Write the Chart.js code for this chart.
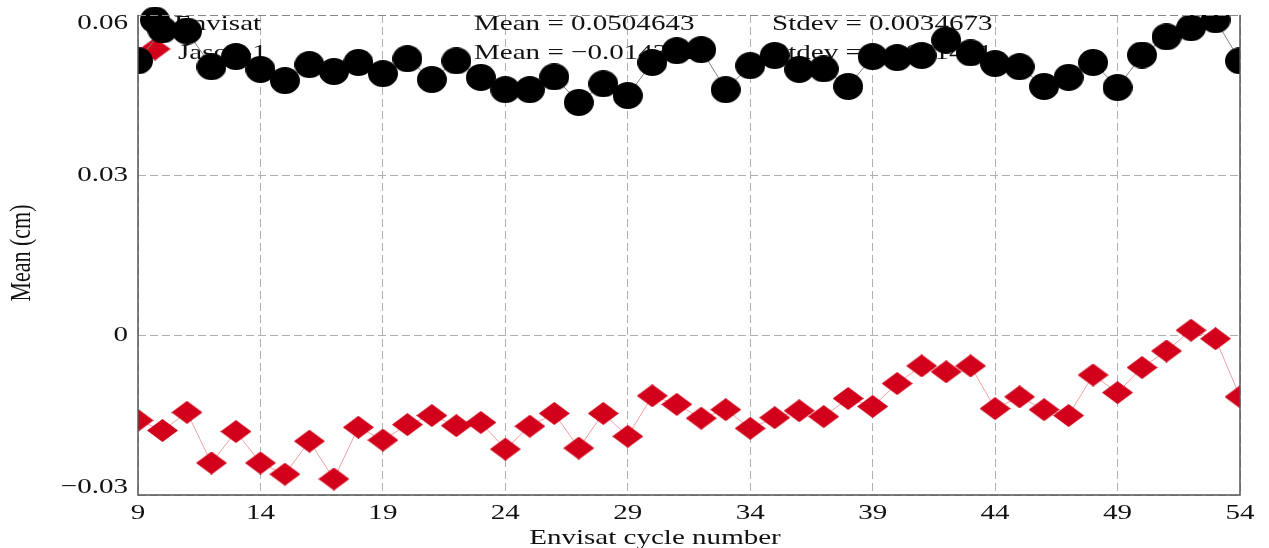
<!DOCTYPE html>
<html>
<head>
<meta charset="utf-8">
<script src="https://cdn.jsdelivr.net/npm/chart.js@4"></script>
<style>
  body { margin: 0; background: #fff; }
  canvas { display: block; }
</style>
</head>
<body>
<canvas id="chart" width="1269" height="548"></canvas>
<script>
// Envisat cycles 9..54
const cycles = [9, 10, 11, 12, 13, 14, 15, 16, 17, 18, 19, 20, 21, 22, 23, 24, 25, 26, 27, 28, 29, 30, 31,
    32, 33, 34, 35, 36, 37, 38, 39, 40, 41, 42, 43, 44, 45, 46, 47, 48, 49, 50, 51, 52, 53, 54];

const envisatMean = [0.0514, 0.0572, 0.0570, 0.0503, 0.0522, 0.0498, 0.0477, 0.0507, 0.0494, 0.0511,
    0.0490, 0.0518, 0.0479, 0.0514, 0.0483, 0.0460, 0.0460, 0.0484, 0.0436, 0.0471, 0.0449, 0.0511,
    0.0533, 0.0535, 0.0460, 0.0505, 0.0524, 0.0498, 0.0499, 0.0466, 0.0522, 0.0520, 0.0524, 0.0553,
    0.0529, 0.0509, 0.0503, 0.0466, 0.0483, 0.0511, 0.0464, 0.0525, 0.0559, 0.0576, 0.0591, 0.0514];

const jasonMean = [-0.0160, -0.0179, -0.0145, -0.0240, -0.0181, -0.0240, -0.0261, -0.0199, -0.0270, -0.0173,
    -0.0197, -0.0168, -0.0151, -0.0170, -0.0164, -0.0214, -0.0171, -0.0147, -0.0212, -0.0147, -0.0190, -0.0114,
    -0.0130, -0.0156, -0.0140, -0.0175, -0.0155, -0.0142, -0.0153, -0.0119, -0.0134, -0.0091, -0.0058, -0.0069,
    -0.0058, -0.0138, -0.0116, -0.0140, -0.0151, -0.0075, -0.0108, -0.0061, -0.0030, 0.0009, -0.0007, -0.0116];

const xTicks = [9, 14, 19, 24, 29, 34, 39, 44, 49, 54];
const yTicks = [-0.03, 0, 0.03, 0.06];

const seriesNames = ['Envisat', 'Jason-1'];
const statLines = [
    ['Mean = 0.0504643', 'Stdev = 0.0034673'],
    ['Mean = \u22120.0143626', 'Stdev = 0.0061401']
];

const FONT = '22px "Liberation Serif", "Times New Roman", serif';
const SX = 1.32; // the original figure text is stretched sideways

function ellipseMarker(w, h, color) {
    const c = document.createElement('canvas');
    c.width = w; c.height = h;
    const g = c.getContext('2d');
    g.fillStyle = color;
    g.beginPath();
    g.ellipse(w / 2, h / 2, w / 2, h / 2, 0, 0, Math.PI * 2);
    g.fill();
    return c;
}

function diamondMarker(w, h, color) {
    const c = document.createElement('canvas');
    c.width = w; c.height = h;
    const g = c.getContext('2d');
    g.fillStyle = color;
    g.beginPath();
    g.moveTo(w / 2, 0);
    g.lineTo(w, h / 2);
    g.lineTo(w / 2, h);
    g.lineTo(0, h / 2);
    g.closePath();
    g.fill();
    return c;
}

const circle = ellipseMarker(30, 27, '#000000');
const diamond = diamondMarker(31, 23, '#d2001a');

function wideText(ctx, text, x, y, align, baseline) {
    ctx.save();
    ctx.translate(x, y);
    ctx.scale(SX, 1);
    ctx.textAlign = align;
    ctx.textBaseline = baseline;
    ctx.fillText(text, 0, 0);
    ctx.restore();
}

function formatTick(v) {
    if (v === 0) return '0';
    const s = Math.abs(v).toFixed(2);
    return v < 0 ? '\u2212' + s : s;
}

const textPlugin = {
    id: 'textPlugin',
    beforeDatasetsDraw(chart) {
        const ctx = chart.ctx;
        ctx.save();
        ctx.font = FONT;
        ctx.fillStyle = '#111';
        // legend (sits under the markers, as in the original)
        ctx.drawImage(circle, 155 - circle.width / 2, 20 - circle.height / 2);
        ctx.drawImage(diamond, 155 - diamond.width / 2, 49 - diamond.height / 2);
        wideText(ctx, seriesNames[0], 174, 30, 'left', 'alphabetic');
        wideText(ctx, seriesNames[1], 178, 59, 'left', 'alphabetic');
        // statistics
        wideText(ctx, statLines[0][0], 474, 30, 'left', 'alphabetic');
        wideText(ctx, statLines[0][1], 772, 30, 'left', 'alphabetic');
        wideText(ctx, statLines[1][0], 474, 59, 'left', 'alphabetic');
        wideText(ctx, statLines[1][1], 772, 59, 'left', 'alphabetic');
        ctx.restore();
    },
    afterDatasetsDraw(chart) {
        const {ctx, chartArea: a} = chart;
        ctx.save();
        ctx.strokeStyle = '#888';
        ctx.lineWidth = 1;
        ctx.setLineDash([8, 4]);
        ctx.beginPath();
        ctx.moveTo(a.left, a.top + 0.5);
        ctx.lineTo(a.right, a.top + 0.5);
        ctx.stroke();
        ctx.setLineDash([]);
        ctx.strokeStyle = '#555';
        ctx.lineWidth = 1.5;
        ctx.beginPath();
        ctx.moveTo(a.left, a.top);
        ctx.lineTo(a.left, a.bottom);
        ctx.lineTo(a.right, a.bottom);
        ctx.lineTo(a.right, a.top);
        ctx.stroke();
        ctx.restore();
    },
    afterDraw(chart) {
        const {ctx, chartArea: a} = chart;
        const xs = chart.scales.x, ys = chart.scales.y;
        ctx.save();
        ctx.font = FONT;
        ctx.fillStyle = '#111';
        yTicks.forEach(v => {
            let y = ys.getPixelForValue(v);
            y = Math.min(Math.max(y, a.top + 8), a.bottom - 8);
            wideText(ctx, formatTick(v), 128, y, 'right', 'middle');
        });
        xTicks.forEach(v => {
            wideText(ctx, String(v), xs.getPixelForValue(v), 513, 'center', 'middle');
        });
        wideText(ctx, 'Envisat cycle number', 655, 544, 'center', 'alphabetic');
        // rotated y title
        ctx.save();
        ctx.translate(30, 253);
        ctx.rotate(-Math.PI / 2);
        ctx.scale(1, SX);
        ctx.textAlign = 'center';
        ctx.textBaseline = 'alphabetic';
        ctx.fillText('Mean (cm)', 0, 0);
        ctx.restore();
        ctx.restore();
    }
};

const ctx = document.getElementById('chart').getContext('2d');
new Chart(ctx, {
    type: 'line',
    data: {
        datasets: [{
            label: seriesNames[0],
            data: cycles.map((c, i) => ({x: c, y: envisatMean[i]})),
            borderColor: '#808080',
            borderWidth: 1,
            pointStyle: circle,
            pointRadius: 14,
            tension: 0
        }, {
            label: seriesNames[1],
            data: cycles.map((c, i) => ({x: c, y: jasonMean[i]})),
            borderColor: '#f2a0a0',
            borderWidth: 1,
            pointStyle: diamond,
            pointRadius: 14,
            tension: 0
        }]
    },
    options: {
        responsive: false,
        animation: false,
        devicePixelRatio: 1,
        layout: {
            padding: {top: 12, right: 29, left: 0, bottom: 0}
        },
        plugins: {
            legend: {display: false},
            tooltip: {enabled: false}
        },
        scales: {
            x: {
                type: 'linear',
                min: 9,
                max: 54,
                afterBuildTicks: s => { s.ticks = xTicks.map(v => ({value: v})); },
                afterFit: s => { s.height = 53; },
                ticks: {display: false},
                grid: {color: '#b0b0b0', lineWidth: 1, drawTicks: false},
                border: {display: false, dash: [8, 4]}
            },
            y: {
                min: -0.03,
                max: 0.06,
                afterBuildTicks: s => { s.ticks = yTicks.map(v => ({value: v})); },
                afterFit: s => { s.width = 138; },
                ticks: {display: false},
                grid: {color: '#b0b0b0', lineWidth: 1, drawTicks: false},
                border: {display: false, dash: [8, 4]}
            }
        }
    },
    plugins: [textPlugin]
});
</script>
</body>
</html>
